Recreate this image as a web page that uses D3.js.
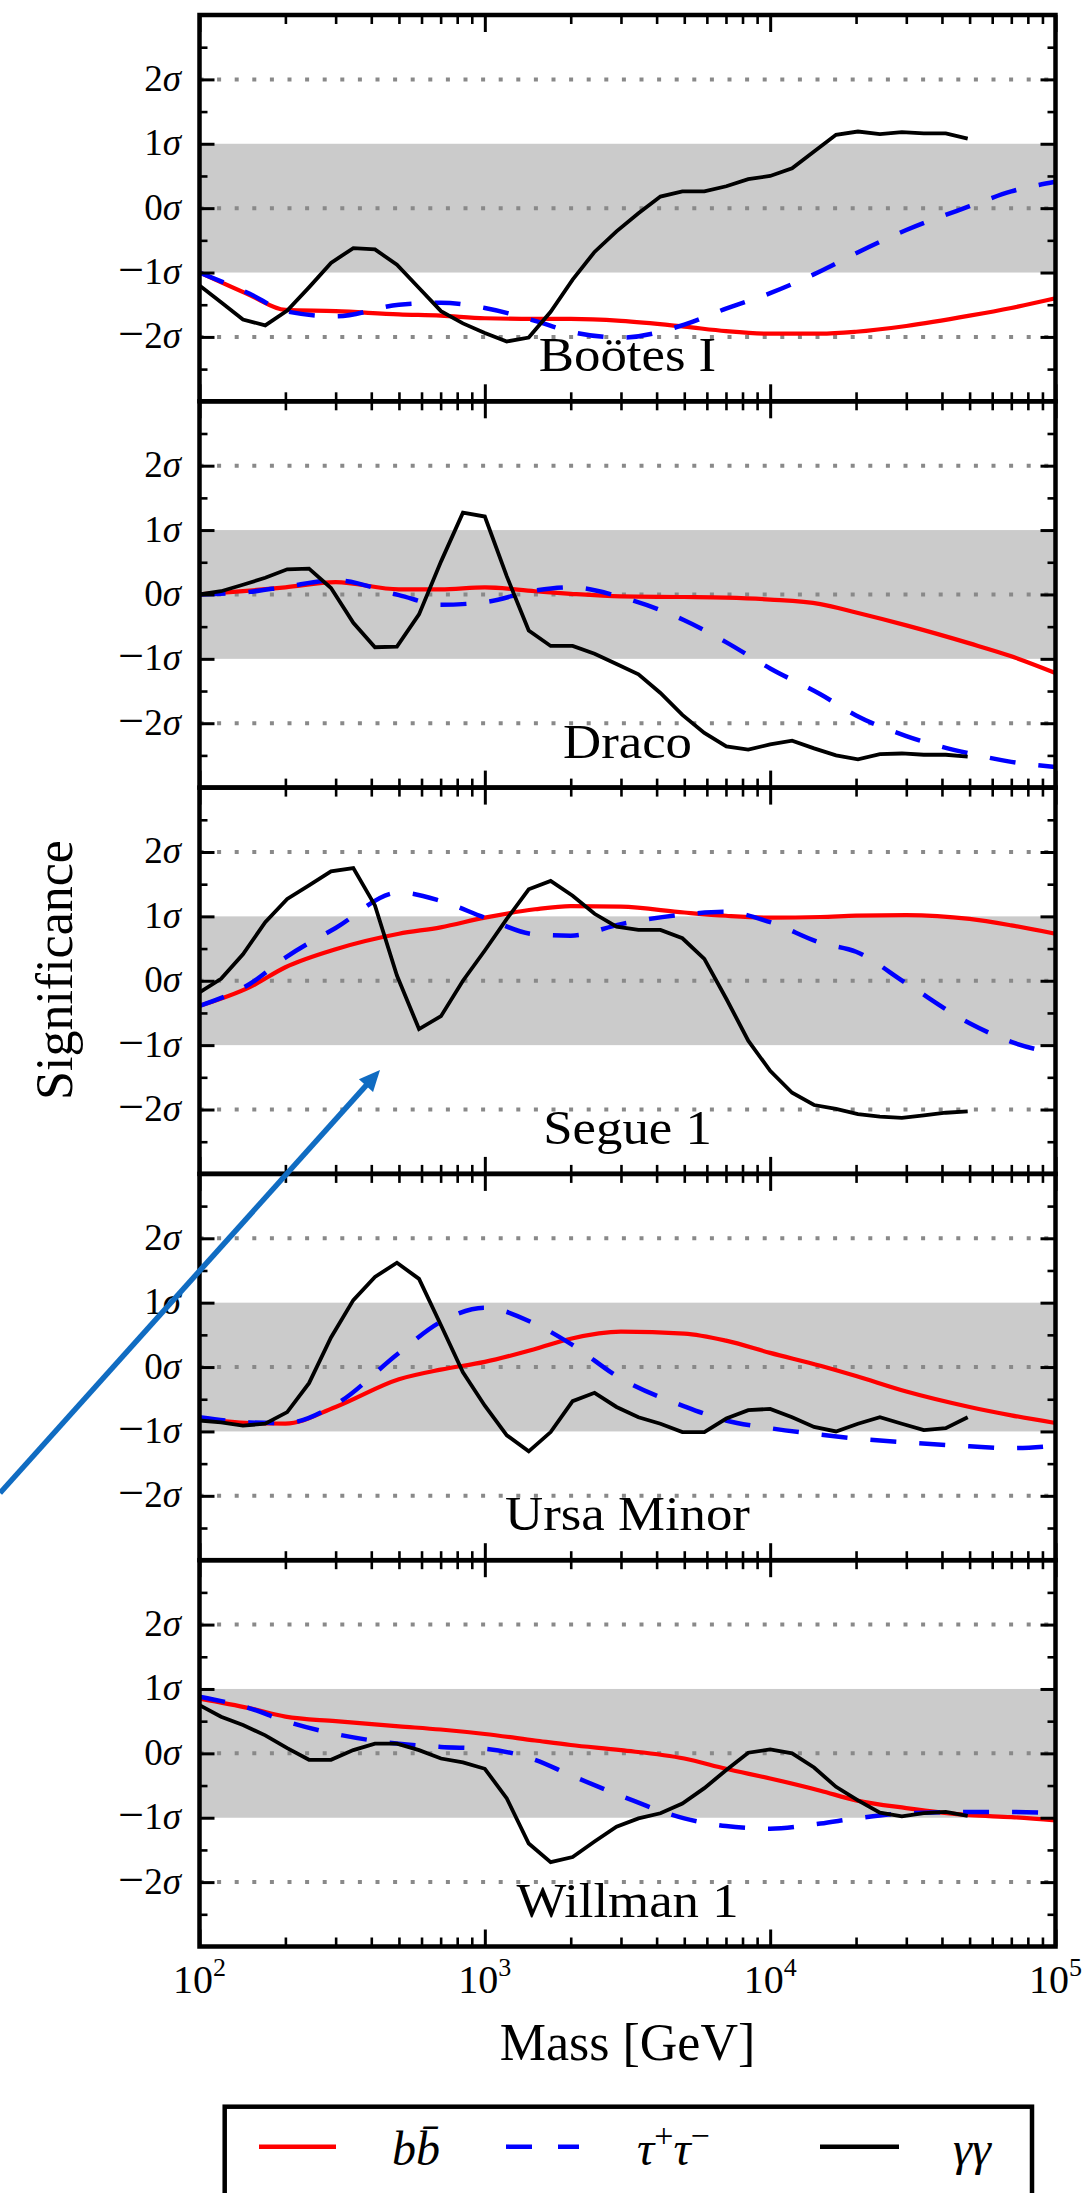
<!DOCTYPE html>
<html><head><meta charset="utf-8">
<script src="https://cdn.jsdelivr.net/npm/d3@7"></script>
<style>
body{margin:0;background:#fff}
svg{display:block}
text{font-family:"Liberation Serif","Times New Roman",serif;fill:#000}
</style>
</head><body>
<script>
// ---- data ----
const massGG = [100,119,142,170,203,242,289,346,412,492,588,702,838,1000,1194,1425,1701,2031,2424,2894,3455,4125,4924,5879,7019,8379,10000,11938,14251,17013,20309,24245,28943,34551,41246,49239];
const massSmooth = [100,150,200,300,500,700,1000,1500,2000,3000,5000,7000,10000,15000,20000,30000,50000,70000,100000];
const dwarfNames = ["Boötes I","Draco","Segue 1","Ursa Minor","Willman 1"];

const bbBoo = [-1.00,-1.35,-1.58,-1.60,-1.65,-1.67,-1.71,-1.72,-1.72,-1.75,-1.84,-1.91,-1.95,-1.95,-1.92,-1.83,-1.67,-1.55,-1.40];
const ttBoo = [-1.00,-1.33,-1.60,-1.68,-1.50,-1.47,-1.55,-1.75,-1.92,-2.01,-1.81,-1.56,-1.32,-0.98,-0.70,-0.34,0.03,0.26,0.41];
const ggBoo = [-1.20,-1.46,-1.73,-1.82,-1.59,-1.23,-0.85,-0.62,-0.64,-0.88,-1.24,-1.60,-1.79,-1.94,-2.07,-2.01,-1.61,-1.11,-0.68,-0.36,-0.08,0.18,0.26,0.26,0.34,0.45,0.50,0.62,0.88,1.14,1.19,1.15,1.18,1.16,1.16,1.08];

const bbDra = [0.00,0.06,0.11,0.19,0.08,0.08,0.11,0.05,0.01,-0.03,-0.04,-0.05,-0.08,-0.15,-0.28,-0.48,-0.76,-0.96,-1.22];
const ttDra = [0.00,0.04,0.12,0.22,-0.01,-0.16,-0.12,0.06,0.11,-0.04,-0.40,-0.74,-1.15,-1.55,-1.88,-2.20,-2.47,-2.60,-2.68];
const ggDra = [0.00,0.05,0.15,0.26,0.39,0.40,0.10,-0.44,-0.82,-0.81,-0.31,0.51,1.27,1.21,0.28,-0.56,-0.80,-0.80,-0.92,-1.08,-1.24,-1.53,-1.87,-2.15,-2.36,-2.41,-2.33,-2.27,-2.39,-2.50,-2.56,-2.48,-2.47,-2.49,-2.49,-2.52];

const bbSeg = [-0.39,-0.10,0.21,0.49,0.73,0.83,0.98,1.11,1.16,1.15,1.06,1.01,0.98,0.99,1.01,1.02,0.96,0.86,0.73];
const ttSeg = [-0.39,-0.05,0.36,0.82,1.37,1.24,0.98,0.72,0.70,0.88,1.03,1.07,0.91,0.59,0.45,-0.04,-0.66,-0.95,-1.13];
const ggSeg = [-0.18,0.03,0.41,0.91,1.27,1.48,1.70,1.75,1.17,0.08,-0.75,-0.55,0.00,0.47,0.96,1.42,1.55,1.32,1.04,0.84,0.79,0.79,0.66,0.34,-0.28,-0.93,-1.40,-1.74,-1.93,-1.99,-2.07,-2.11,-2.13,-2.09,-2.05,-2.03];

const bbUMi = [-0.80,-0.87,-0.88,-0.62,-0.19,-0.04,0.08,0.28,0.44,0.55,0.52,0.41,0.22,0.02,-0.14,-0.38,-0.62,-0.75,-0.87];
const ttUMi = [-0.78,-0.86,-0.87,-0.58,0.22,0.70,0.92,0.67,0.36,-0.18,-0.61,-0.83,-0.95,-1.05,-1.11,-1.17,-1.23,-1.26,-1.22];
const ggUMi = [-0.83,-0.86,-0.91,-0.88,-0.70,-0.25,0.46,1.04,1.40,1.62,1.37,0.65,-0.08,-0.60,-1.06,-1.31,-1.01,-0.53,-0.40,-0.62,-0.78,-0.88,-1.01,-1.01,-0.80,-0.67,-0.65,-0.78,-0.93,-1.00,-0.88,-0.78,-0.88,-0.98,-0.95,-0.78];

const bbWil = [0.85,0.70,0.57,0.50,0.42,0.37,0.30,0.20,0.13,0.05,-0.08,-0.24,-0.39,-0.58,-0.73,-0.85,-0.96,-0.99,-1.04];
const ttWil = [0.88,0.70,0.50,0.30,0.15,0.10,0.07,-0.10,-0.34,-0.66,-1.01,-1.13,-1.17,-1.09,-1.01,-0.93,-0.91,-0.91,-0.93];
const ggWil = [0.75,0.57,0.44,0.28,0.08,-0.10,-0.10,0.05,0.15,0.15,0.05,-0.08,-0.14,-0.24,-0.70,-1.40,-1.69,-1.61,-1.37,-1.14,-1.01,-0.93,-0.78,-0.54,-0.26,0.01,0.06,0.00,-0.22,-0.52,-0.73,-0.92,-0.98,-0.93,-0.91,-0.97];

const yTickValues = [-2,-1,0,1,2];
const yMinorValues = [-2.5,-1.5,-0.5,0.5,1.5,2.5];
const xTickValues = [1e2,1e3,1e4,1e5];
const xTickExp = ["2","3","4","5"];
const legendLabels = ["bb\u0304","ττ","γγ"];

// ---- layout ----
const W=1084,H=2193;
const X0=199.5,X1=1055.5,TOP=15,PH=386.3;
const svg = d3.select("body").append("svg").attr("width",W).attr("height",H);
const x = d3.scaleLog().domain([1e2,1e5]).range([X0,X1]);
const xMinor = [];
[1e2,1e3,1e4].forEach(d=>{for(let k=2;k<=9;k++) xMinor.push(d*k);});

const panels = [
  {bb:bbBoo,tt:ttBoo,gg:ggBoo},
  {bb:bbDra,tt:ttDra,gg:ggDra},
  {bb:bbSeg,tt:ttSeg,gg:ggSeg},
  {bb:bbUMi,tt:ttUMi,gg:ggUMi},
  {bb:bbWil,tt:ttWil,gg:ggWil}
];

function addAxis(g, axis, tx, ty, sw){
  const a = g.append("g").attr("transform",`translate(${tx},${ty})`).call(axis);
  a.select(".domain").remove();
  a.selectAll(".tick line").attr("stroke","#000").attr("stroke-width",sw);
  a.selectAll(".tick text").remove();
}

const defs = svg.append("defs");

panels.forEach((p,i)=>{
  const top = TOP+i*PH, bot = top+PH;
  const y = d3.scaleLinear().domain([-3,3]).range([bot,top]);
  const g = svg.append("g");
  defs.append("clipPath").attr("id","clip"+i).append("rect")
    .attr("x",X0).attr("y",top).attr("width",X1-X0).attr("height",PH);

  // 1 sigma band
  g.append("rect").attr("x",X0).attr("width",X1-X0)
    .attr("y",y(1)).attr("height",y(-1)-y(1)).attr("fill","#cbcbcb");
  // dotted grid
  g.selectAll("line.grid").data([-2,0,2]).join("line").attr("class","grid")
    .attr("x1",X0).attr("x2",X1).attr("y1",d=>y(d)).attr("y2",d=>y(d))
    .attr("stroke","#898989").attr("stroke-width",4).attr("stroke-dasharray","4,13.6");

  const plot = g.append("g").attr("clip-path",`url(#clip${i})`);
  const lineS = d3.line().x((d,j)=>x(massSmooth[j])).y(d=>y(d)).curve(d3.curveMonotoneX);
  const lineG = d3.line().x((d,j)=>x(massGG[j])).y(d=>y(d));
  plot.append("path").attr("d",lineS(p.bb)).attr("fill","none").attr("stroke","#ff0000").attr("stroke-width",4.2);
  plot.append("path").attr("d",lineS(p.tt)).attr("fill","none").attr("stroke","#0000ff").attr("stroke-width",4.5)
    .attr("stroke-dasharray","26,23");
  plot.append("path").attr("d",lineG(p.gg)).attr("fill","none").attr("stroke","#000").attr("stroke-width",3.8)
    .attr("stroke-linejoin","miter");

  // ticks (inward on all sides)
  addAxis(g, d3.axisRight(y).tickValues(yTickValues).tickSize(15).tickFormat(""), X0, 0, 3);
  addAxis(g, d3.axisRight(y).tickValues(yMinorValues).tickSize(8).tickFormat(""), X0, 0, 2.6);
  addAxis(g, d3.axisLeft(y).tickValues(yTickValues).tickSize(15).tickFormat(""), X1, 0, 3);
  addAxis(g, d3.axisLeft(y).tickValues(yMinorValues).tickSize(8).tickFormat(""), X1, 0, 2.6);
  addAxis(g, d3.axisTop(x).tickValues(xTickValues).tickSize(17).tickFormat(""), 0, bot, 3);
  addAxis(g, d3.axisTop(x).tickValues(xMinor).tickSize(9).tickFormat(""), 0, bot, 2.6);
  addAxis(g, d3.axisBottom(x).tickValues(xTickValues).tickSize(17).tickFormat(""), 0, top, 3);
  addAxis(g, d3.axisBottom(x).tickValues(xMinor).tickSize(9).tickFormat(""), 0, top, 2.6);

  // frame
  g.append("rect").attr("x",X0).attr("y",top).attr("width",X1-X0).attr("height",PH)
    .attr("fill","none").attr("stroke","#000").attr("stroke-width",4.5);

  // y tick labels
  const yl = g.selectAll("text.ylab").data(yTickValues).join("text").attr("class","ylab")
    .attr("x",181).attr("y",d=>y(d)+11.5).attr("text-anchor","end").attr("font-size",37);
  yl.filter(d=>d<0).append("tspan").attr("font-size",46).attr("dy",1).text("\u2212");
  yl.append("tspan").attr("dy",d=>d<0?-1:0).text(d=>String(Math.abs(d)));
  yl.append("tspan").attr("font-style","italic").text("σ");

  // panel name
  g.append("text").attr("transform",`translate(${(X0+X1)/2},${bot-30}) scale(1.1,1)`)
    .attr("text-anchor","middle").attr("font-size",48).text(dwarfNames[i]);

  if(i===panels.length-1){
    const xl = g.selectAll("text.xlab").data(xTickValues).join("text").attr("class","xlab")
      .attr("x",d=>x(d)).attr("y",bot+46).attr("text-anchor","middle").attr("font-size",40);
    xl.append("tspan").text("10");
    xl.append("tspan").attr("font-size",26).attr("dy",-17).text((d,j)=>xTickExp[j]);
  }
});

// axis titles
svg.append("text").attr("x",(X0+X1)/2).attr("y",2060).attr("text-anchor","middle")
  .attr("font-size",52).text("Mass [GeV]");
svg.append("text").attr("transform","translate(72,970) rotate(-90)").attr("text-anchor","middle")
  .attr("font-size",52).text("Significance");

// legend
const LY = 2146.7, LB = 2165;
const leg = svg.append("g");
leg.append("rect").attr("x",224.7).attr("y",2106.7).attr("width",1032-224.7).attr("height",140)
  .attr("fill","#fff").attr("stroke","#000").attr("stroke-width",4.5);
leg.append("line").attr("x1",259).attr("x2",336).attr("y1",LY).attr("y2",LY).attr("stroke","#ff0000").attr("stroke-width",4.5);
leg.append("line").attr("x1",506).attr("x2",579).attr("y1",LY).attr("y2",LY).attr("stroke","#0000ff").attr("stroke-width",4.5).attr("stroke-dasharray","26,26");
leg.append("line").attr("x1",820).attr("x2",899).attr("y1",LY).attr("y2",LY).attr("stroke","#000").attr("stroke-width",4.5);
leg.append("text").attr("x",392).attr("y",LB).attr("font-size",48).attr("font-style","italic").text(legendLabels[0]);
const tt = leg.append("text").attr("x",637).attr("y",LB).attr("font-size",48).attr("font-style","italic");
tt.append("tspan").text(legendLabels[1][0]);
tt.append("tspan").attr("font-size",34).attr("font-style","normal").attr("dy",-18).text("+");
tt.append("tspan").attr("dy",18).text(legendLabels[1][1]);
tt.append("tspan").attr("font-size",34).attr("font-style","normal").attr("dy",-18).text("\u2212");
leg.append("text").attr("x",953).attr("y",LB).attr("font-size",48).attr("font-style","italic").text(legendLabels[2]);

// annotation arrow
const arrowColor = "#106cc2";
const tip = [380,1070], start = [0,1493];
const dx = tip[0]-start[0], dy = tip[1]-start[1], L = Math.hypot(dx,dy);
const ux = dx/L, uy = dy/L, hl = 21, hw = 9.5;
const base = [tip[0]-hl*ux, tip[1]-hl*uy];
svg.append("line").attr("x1",start[0]).attr("y1",start[1]).attr("x2",base[0]+2*ux).attr("y2",base[1]+2*uy)
  .attr("stroke",arrowColor).attr("stroke-width",5.5);
svg.append("path").attr("d",`M${tip[0]},${tip[1]}L${base[0]-hw*uy},${base[1]+hw*ux}L${base[0]+hw*uy},${base[1]-hw*ux}Z`)
  .attr("fill",arrowColor);
</script>
</body></html>
